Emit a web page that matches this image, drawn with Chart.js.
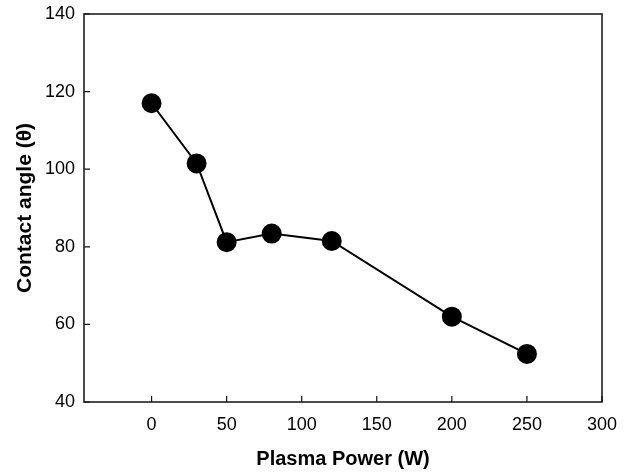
<!DOCTYPE html>
<html>
<head>
<meta charset="utf-8">
<script src="https://cdn.jsdelivr.net/npm/chart.js@4/dist/chart.umd.min.js"></script>
<style>
  html, body { margin: 0; padding: 0; background: #fff; }
  #wrap { width: 628px; height: 473px; }
</style>
</head>
<body>
<div id="wrap"><canvas id="chart" width="628" height="473"></canvas></div>
<script>
// data
const power = [0, 30, 50, 80, 120, 200, 250];
const angle = [117, 101.5, 81.2, 83.4, 81.5, 62, 52.4];
const xTicks = [0, 50, 100, 150, 200, 250, 300];
const yTicks = [40, 60, 80, 100, 120, 140];

// frame + inward tick marks
const frame = {
  id: 'frame',
  afterDraw(chart) {
    const { ctx, chartArea: a, scales: { x, y } } = chart;
    ctx.save();
    ctx.strokeStyle = '#111';
    ctx.lineWidth = 1.5;
    ctx.strokeRect(a.left, a.top, a.right - a.left, a.bottom - a.top);
    ctx.lineWidth = 1.2;
    ctx.beginPath();
    xTicks.forEach(v => {
      const px = x.getPixelForValue(v);
      ctx.moveTo(px, a.bottom); ctx.lineTo(px, a.bottom - 6);
    });
    yTicks.forEach(v => {
      const py = y.getPixelForValue(v);
      ctx.moveTo(a.left, py); ctx.lineTo(a.left + 6, py);
    });
    ctx.stroke();
    ctx.restore();
  }
};

new Chart(document.getElementById('chart'), {
  type: 'scatter',
  data: {
    datasets: [{
      data: power.map((p, i) => ({ x: p, y: angle[i] })),
      showLine: true,
      borderColor: '#000',
      borderWidth: 2,
      backgroundColor: '#000',
      pointBackgroundColor: '#000',
      pointBorderColor: '#000',
      pointRadius: 9,
      tension: 0,
    }],
  },
  options: {
    responsive: false,
    animation: false,
    layout: { padding: { top: 14, right: 26, left: 0, bottom: 0 } },
    plugins: { legend: { display: false }, tooltip: { enabled: false } },
    scales: {
      x: {
        type: 'linear',
        min: -45,
        max: 300,
        afterBuildTicks: s => { s.ticks = xTicks.map(v => ({ value: v })); },
        afterFit: s => { s.height = 71; s.paddingLeft = 0; s.paddingRight = 0; },
        grid: { display: false, drawTicks: false },
        border: { display: false },
        ticks: { color: '#000', font: { family: 'Liberation Sans, Arial', size: 18 }, padding: 12, maxRotation: 0 },
        title: {
          display: true,
          text: 'Plasma Power (W)',
          color: '#000',
          font: { family: 'Liberation Sans, Arial', size: 20, weight: 'bold' },
          padding: { top: 0, bottom: 2 },
        },
      },
      y: {
        min: 40,
        max: 140,
        afterBuildTicks: s => { s.ticks = yTicks.map(v => ({ value: v })); },
        afterFit: s => { s.width = 84; s.paddingTop = 0; s.paddingBottom = 0; },
        grid: { display: false, drawTicks: false },
        border: { display: false },
        ticks: { color: '#000', font: { family: 'Liberation Sans, Arial', size: 18 }, padding: 9 },
        title: {
          display: true,
          text: 'Contact angle (θ)',
          color: '#000',
          font: { family: 'Liberation Sans, Arial', size: 21, weight: 'bold' },
          padding: { top: 13, bottom: 0 },
        },
      },
    },
  },
  plugins: [frame],
});
</script>
</body>
</html>
